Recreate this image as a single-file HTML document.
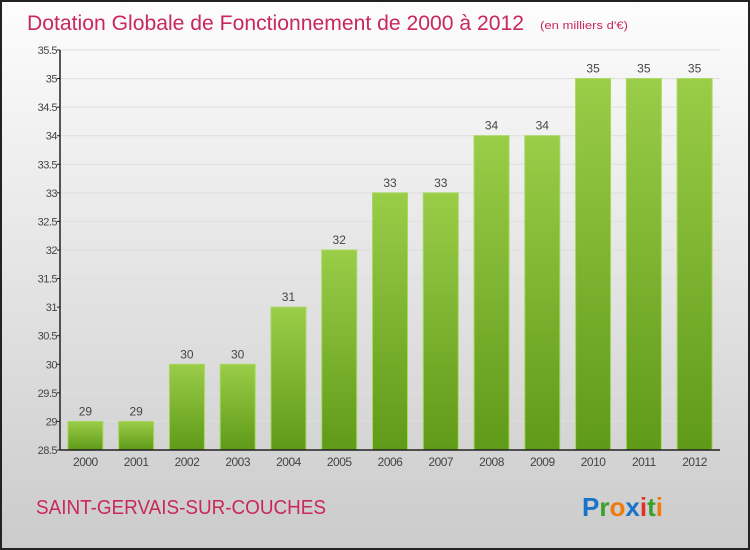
<!DOCTYPE html>
<html><head><meta charset="utf-8"><style>
body{margin:0;width:750px;height:550px;overflow:hidden;font-family:"Liberation Sans",sans-serif}
svg{display:block}
</style></head><body>
<svg width="750" height="550">
<defs>
<linearGradient id="bg" x1="0" y1="0" x2="0" y2="1"><stop offset="0" stop-color="#fdfdfd"/><stop offset="1" stop-color="#cbcbcb"/></linearGradient>
<linearGradient id="bar" x1="0" y1="0" x2="0" y2="1"><stop offset="0" stop-color="#9acd48"/><stop offset="1" stop-color="#5f9a18"/></linearGradient>
</defs>
<rect x="1" y="1" width="748" height="548" fill="url(#bg)" stroke="#222" stroke-width="2"/>
<text x="27" y="30" font-size="21" fill="#c8285a" textLength="497" lengthAdjust="spacingAndGlyphs">Dotation Globale de Fonctionnement de 2000 à 2012</text>
<text x="540" y="29" font-size="11" fill="#c8285a" textLength="88" lengthAdjust="spacingAndGlyphs">(en milliers d'€)</text>
<g id="grid"></g>
<g id="bars"></g>
<g id="axes"></g>
<text x="36" y="514" font-size="20" fill="#c8285a" textLength="290" lengthAdjust="spacingAndGlyphs">SAINT-GERVAIS-SUR-COUCHES</text>
<text x="582" y="516" font-size="26" font-weight="bold"><tspan fill="#1a73c8">P</tspan><tspan fill="#3aa02a">r</tspan><tspan fill="#f07a10">o</tspan><tspan fill="#1a73c8">x</tspan><tspan fill="#e0302a">i</tspan><tspan fill="#3aa02a">t</tspan><tspan fill="#f07a10">i</tspan></text>
</svg>
<script>
const categories=["2000","2001","2002","2003","2004","2005","2006","2007","2008","2009","2010","2011","2012"];
const values=[29,29,30,30,31,32,33,33,34,34,35,35,35];
const yTicks=[28.5,29,29.5,30,30.5,31,31.5,32,32.5,33,33.5,34,34.5,35,35.5];
const NS="http://www.w3.org/2000/svg";
const x0=60,x1=720,yTop=50,yBot=450,ymin=28.5,ymax=35.5;
const step=(x1-x0)/categories.length;
function y(v){return yBot-(v-ymin)/(ymax-ymin)*(yBot-yTop);}
function xc(i){return x0+step*(i+0.5);}
function mk(t,a,p){const e=document.createElementNS(NS,t);for(const k in a)e.setAttribute(k,a[k]);p.appendChild(e);return e;}
const grid=document.getElementById('grid'),bars=document.getElementById('bars'),axes=document.getElementById('axes');
yTicks.forEach(t=>{
 const l=mk('line',{x1:x0,x2:x1,y1:y(t),y2:y(t),stroke:'#dedede','stroke-width':1},grid);
 
 
 const k=mk('line',{x1:x0-3,x2:x0,y1:y(t),y2:y(t),stroke:'#222'},axes);
 
 
 const tx=mk('text',{x:x0-3,y:y(t)+4,'font-size':11,fill:'#444','text-anchor':'end','letter-spacing':'-0.5'},axes);
 tx.textContent=String(t);
 
 
});
values.forEach((v,i)=>{
 const r=mk('rect',{x:xc(i)-17.5,y:y(v),width:35,height:yBot-y(v),fill:'url(#bar)',stroke:'#a8d860','stroke-width':1},bars);
 
 
 const t=mk('text',{x:xc(i),y:y(v)-6,'font-size':12,fill:'#444','text-anchor':'middle'},bars);
 t.textContent=String(v);
 
 
 const c=mk('text',{x:xc(i),y:yBot+16,'font-size':12,fill:'#444','text-anchor':'middle','letter-spacing':'-0.5'},bars);
 c.textContent=categories[i];
 
 
});
const ya=mk('line',{x1:x0,x2:x0,y1:yTop,y2:yBot,stroke:'#222','stroke-width':1.5},axes);


const xa=mk('line',{x1:x0,x2:x1,y1:yBot,y2:yBot,stroke:'#222','stroke-width':1.5},axes);


</script>
</body></html>
